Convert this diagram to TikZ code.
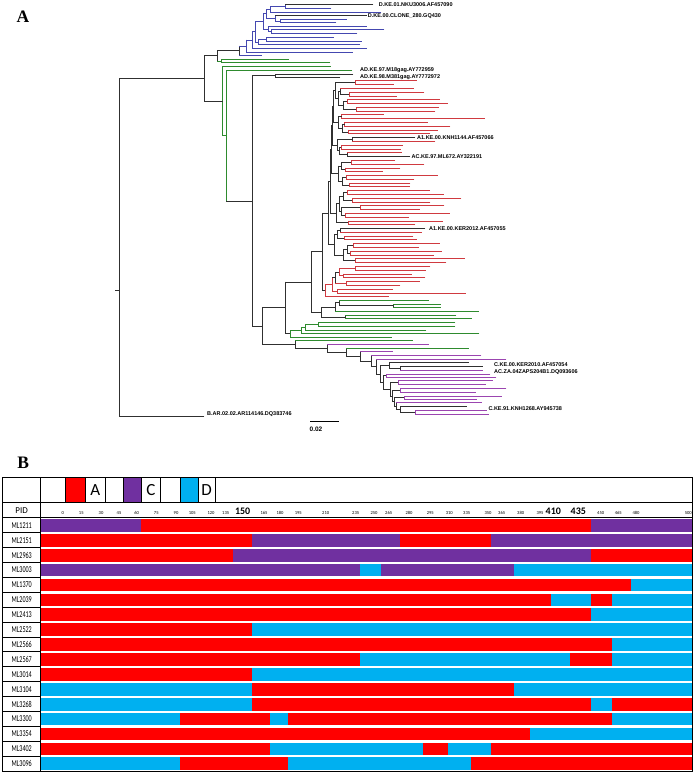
\documentclass[tikz,border=0pt]{standalone}
\usepackage{fontspec}
\usepackage{graphicx}
\setmainfont{Liberation Sans}
\newfontfamily\carl{Carlito}
\newfontfamily\serb{Liberation Serif}
\usetikzlibrary{calc}
\definecolor{trd}{HTML}{D03A40}
\definecolor{tbl}{HTML}{4448B0}
\definecolor{tgr}{HTML}{2E8B2E}
\definecolor{tpu}{HTML}{9B45B0}
\definecolor{tik}{HTML}{303030}
\definecolor{xr}{HTML}{FF0000}
\definecolor{xp}{HTML}{7030A0}
\definecolor{xb}{HTML}{00B0F0}
\tikzset{
  lr/.style={draw=trd,line width=.7pt,line cap=rect},
  lb/.style={draw=tbl,line width=.7pt,line cap=rect},
  lg/.style={draw=tgr,line width=.7pt,line cap=rect},
  lp/.style={draw=tpu,line width=.7pt,line cap=rect},
  lk/.style={draw=tik,line width=.7pt,line cap=rect},
  ib/.style={draw=tik,line width=.7pt,line cap=rect},
  tlab/.style={anchor=west,inner sep=0pt,font=\bfseries\fontsize{5.5}{5.5}\selectfont},
  scl/.style={anchor=base,inner sep=0pt,font=\carl\fontsize{4.6}{4.6}\selectfont},
  sclb/.style={anchor=base,inner sep=0pt,font=\carl\bfseries\fontsize{10}{10}\selectfont},
  rowlbl/.style={inner sep=0pt,font=\carl\fontsize{9}{9}\selectfont},
  tline/.style={black,line width=.8pt},
}
% internal tree node: name, x, child1, style1, child2, style2, vertical style
\newcommand{\tn}[7]{%
  \path let \p1=(#3), \p2=(#5) in node[coordinate] (#1) at (#2pt,{0.5*(\y1+\y2)}) {};
  \draw[#7] let \p1=(#3), \p2=(#5) in (#2pt,\y1) -- (#2pt,\y2);
  \draw[#4] let \p1=(#3) in (#2pt,\y1) -- (\x1,\y1);
  \draw[#6] let \p1=(#5) in (#2pt,\y1) -- (\x1,\y1);
}
\begin{document}
\begin{tikzpicture}[x=1pt,y=-1pt]
\useasboundingbox (0,0) rectangle (696,774);
\fill[white] (0,0) rectangle (696,774);

% ---------------- Panel A : tree ----------------
\node[font=\serb\bfseries\fontsize{17.5}{17.5}\selectfont,inner sep=0pt] (panA) at (23,16.5) {A};

% D cluster leaves
\coordinate (d1) at (373,4.7);
\coordinate (d2) at (331,8.0);
\coordinate (d3) at (381,12.0);
\coordinate (d4) at (366.7,15.7);
\coordinate (d5) at (346.7,19.0);
\coordinate (d6) at (336,22.7);
\coordinate (d7) at (366.7,26.0);
\coordinate (d8) at (384,29.7);
\coordinate (d9) at (357,33.7);
\coordinate (d10) at (333.7,37.3);
\coordinate (d11) at (361.7,41.0);
\coordinate (d12) at (360,44.7);
\coordinate (d13) at (366.7,48.3);
\coordinate (d14) at (352.7,52.0);
\coordinate (d15) at (261.7,55.0);
\tn{da}{285.7}{d1}{lk}{d2}{lb}{lb}
\tn{dc}{270.7}{da}{lb}{d3}{lb}{lb}
\tn{dd}{280.7}{d5}{lb}{d6}{lb}{lb}
\tn{de}{275.3}{d4}{lk}{dd}{lb}{lb}
\tn{df}{266.7}{dc}{lb}{de}{lb}{lb}
\tn{dg}{271.7}{d8}{lb}{d9}{lb}{lb}
\tn{dh}{268}{d7}{lb}{dg}{lb}{lb}
\tn{di}{263.5}{df}{lb}{dh}{lb}{lb}
\tn{dj}{266.7}{d10}{lb}{d11}{lb}{lb}
\tn{dk}{258.3}{dj}{lb}{d12}{lb}{lb}
\tn{dl}{255}{di}{lb}{dk}{lb}{lb}
\tn{dm}{252}{dl}{lb}{d13}{lb}{lb}
\tn{dn}{246.7}{dm}{lb}{d14}{lb}{lb}
\tn{droot}{239.3}{dn}{lb}{d15}{lb}{ib}

% upper green + AD
\coordinate (gt1) at (288.7,59.3);
\coordinate (gt2) at (330,62.7);
\coordinate (gt3) at (330.7,66.0);
\coordinate (gad) at (352,70.7);
\coordinate (ad1) at (353,74.0);
\coordinate (ad2) at (340,77.3);
\tn{gt}{221.7}{gt1}{lg}{gt2}{lg}{lg}
\tn{adn}{275.3}{ad1}{lk}{ad2}{lk}{ib}

% red cluster leaves
\foreach \k/\e in {0/416.7,1/393.3,2/413.3,3/424,4/396.7,5/439.3,6/447.3,7/438.3,8/435,9/383.3,10/484.3,11/427.7,12/450,13/437.3,14/430,15/415,16/435,17/402.7,18/400.7,19/401.7,20/410,21/395,22/424,23/400,24/382.7,25/437.3,26/414,27/410,28/409.3,29/429.3,30/443.3,31/461,32/430,33/444,34/419.3,35/449.3,36/408.3,37/442.7,38/415,39/425,40/421.7,41/413,42/416.7,43/439.3,44/418.3,45/441.7,46/433.3,47/464.3,48/446,49/430,50/425.3,51/411.7,52/425,53/419.3,54/400,55/392.7,56/465.7,57/388.3}
  \coordinate (r\k) at (\e,{80.7+3.789*\k});
\tn{s1}{355}{r0}{lr}{r1}{lr}{lr}
\tn{s2a}{349}{r3}{lr}{r4}{lr}{lr}
\tn{s2b}{340}{r2}{lr}{s2a}{ib}{ib}
\tn{s2c}{347}{r5}{lr}{r6}{lr}{lr}
\tn{s2d}{356}{r7}{lr}{r8}{lr}{lr}
\tn{s2e}{343}{s2c}{ib}{s2d}{ib}{ib}
\tn{s2}{338}{s2b}{ib}{s2e}{ib}{ib}
\tn{s3a}{341.7}{r9}{lr}{r10}{lr}{lr}
\tn{s3b}{344.3}{r11}{lr}{r12}{lr}{lr}
\tn{s3c}{348}{r13}{lr}{r14}{lr}{lr}
\tn{s3d}{342}{s3b}{ib}{s3c}{ib}{ib}
\tn{s3}{338.5}{s3a}{ib}{s3d}{ib}{ib}
\tn{s4a}{352}{r15}{lk}{r16}{lr}{ib}
\tn{s4b}{341}{r17}{lr}{r18}{lr}{lr}
\tn{s4c}{347}{r19}{lr}{r20}{lk}{ib}
\tn{s4d}{339}{s4b}{ib}{s4c}{ib}{ib}
\tn{s4}{337}{s4a}{ib}{s4d}{ib}{ib}
\tn{s5a}{351}{r21}{lr}{r22}{lr}{lr}
\tn{s5b}{345}{r23}{lr}{r24}{lr}{lr}
\tn{s5c}{341}{s5a}{ib}{s5b}{ib}{ib}
\tn{s5d}{346}{r25}{lr}{r26}{lr}{lr}
\tn{s5e}{349}{r27}{lr}{r28}{lr}{lr}
\tn{s5f}{342}{s5d}{ib}{s5e}{ib}{ib}
\tn{s5}{338}{s5c}{ib}{s5f}{ib}{ib}
\tn{s6a}{347}{r29}{lr}{r30}{lr}{lr}
\tn{s6b}{352}{r31}{lr}{r32}{lr}{lr}
\tn{s6c}{343}{s6a}{ib}{s6b}{ib}{ib}
\tn{s6d}{360}{r33}{lr}{r34}{lr}{lr}
\tn{s6e}{345}{r35}{lr}{r36}{lr}{lr}
\tn{s6f}{341}{s6d}{ib}{s6e}{ib}{ib}
\tn{s6g}{339}{s6c}{ib}{s6f}{ib}{ib}
\tn{s6h}{348}{r37}{lr}{r38}{lr}{lr}
\tn{s6}{336}{s6g}{ib}{s6h}{ib}{ib}
\tn{s7a}{340}{r39}{lk}{r40}{lr}{ib}
\tn{s7b}{344}{r41}{lr}{r42}{lr}{lr}
\tn{s7c}{337}{s7a}{ib}{s7b}{ib}{ib}
\tn{s7d}{353}{r43}{lr}{r44}{lr}{lr}
\tn{s7e}{350}{r45}{lr}{r46}{lr}{lr}
\tn{s7f}{347}{s7d}{ib}{s7e}{ib}{ib}
\tn{s7g}{355}{r47}{lr}{r48}{lr}{lr}
\tn{s7h}{343}{s7f}{ib}{s7g}{ib}{ib}
\tn{s7}{334}{s7c}{ib}{s7h}{ib}{ib}
\tn{s8a}{355}{r49}{lr}{r50}{lr}{lr}
\tn{s8b}{343}{r51}{lr}{r52}{lr}{lr}
\tn{s8c}{339}{s8a}{lr}{s8b}{lr}{lr}
\tn{s8d}{346}{r53}{lr}{r54}{lr}{lr}
\tn{s8e}{335}{s8c}{ib}{s8d}{lr}{ib}
\tn{s8f}{337}{r55}{lr}{r56}{lr}{lr}
\tn{s8g}{332}{s8e}{ib}{s8f}{lr}{lr}
\tn{s8}{325}{s8g}{lr}{r57}{lr}{lr}
\tn{b1}{335}{s1}{ib}{s2}{ib}{ib}
\tn{b2}{333}{b1}{ib}{s3}{ib}{ib}
\tn{b3}{332}{b2}{ib}{s4}{ib}{ib}
\tn{b4}{331}{b3}{ib}{s5}{ib}{ib}
\tn{b5}{330}{b4}{ib}{s6}{ib}{ib}
\tn{b6}{328}{b5}{ib}{s7}{ib}{ib}
\tn{rr}{322}{b6}{ib}{s8}{ib}{ib}

% middle green cluster
\coordinate (g1) at (428.3,300.0);
\coordinate (g2) at (440.7,304.0);
\coordinate (g3) at (440.7,307.3);
\coordinate (g4) at (478.3,311.3);
\coordinate (g5) at (456.0,315.0);
\coordinate (g6) at (471.7,318.7);
\coordinate (g7) at (455.0,322.7);
\coordinate (g8) at (455.0,326.0);
\coordinate (g9) at (426.0,330.0);
\coordinate (g10) at (479.0,333.3);
\coordinate (g11) at (391.7,337.0);
\tn{gma}{393.3}{g2}{lg}{g3}{lg}{ib}
\tn{gmb}{339.3}{g1}{lg}{gma}{ib}{ib}
\tn{gmc}{335}{gmb}{ib}{g4}{lg}{ib}
\tn{gme}{345}{g5}{lg}{g6}{lg}{ib}
\tn{gmd}{321.7}{gmc}{ib}{gme}{ib}{ib}
\tn{m1}{311.7}{rr}{ib}{gmd}{ib}{ib}
\tn{gla}{318}{g7}{lg}{g8}{lg}{lg}
\tn{glb}{305}{gla}{lg}{g9}{lg}{lg}
\tn{glc}{301}{glb}{lg}{g10}{lg}{lg}
\tn{gl}{290}{glc}{lg}{g11}{lg}{lg}
\tn{n4}{285}{m1}{ib}{gl}{ib}{ib}

% purple cluster
\coordinate (pg0) at (412.7,340.7);
\coordinate (pp1) at (428.3,344.3);
\coordinate (pg2) at (468.3,348.3);
\coordinate (pp3) at (392.7,351.7);
\coordinate (pp4) at (481,355.3);
\coordinate (pp5) at (506,359.3);
\coordinate (qk1) at (468.3,362.7);
\coordinate (qk2) at (482.7,366.7);
\coordinate (qp3) at (482.7,370.0);
\coordinate (qb1a) at (490,374.0);
\coordinate (qb1b) at (496,377.3);
\coordinate (qc1a) at (492.7,380.7);
\coordinate (qc1b) at (485.3,384.7);
\coordinate (qd1a) at (506,388.7);
\coordinate (qd1b) at (475.7,392.0);
\coordinate (qe1a) at (501.7,396.0);
\coordinate (qe1b) at (476.7,399.3);
\coordinate (qfl) at (481.7,402.7);
\coordinate (qgl) at (466.7,406.7);
\coordinate (qh1) at (486.7,410.0);
\coordinate (qh2) at (488.3,414.0);
\tn{qh}{415}{qh1}{lp}{qh2}{lp}{lp}
\tn{qg}{400}{qgl}{lk}{qh}{ib}{ib}
\tn{qf}{396}{qfl}{lp}{qg}{ib}{ib}
\tn{qe1}{404}{qe1a}{lp}{qe1b}{lp}{lp}
\tn{qe}{394}{qe1}{ib}{qf}{ib}{ib}
\tn{qd1}{400}{qd1a}{lp}{qd1b}{lp}{lp}
\tn{qd}{392}{qd1}{ib}{qe}{ib}{ib}
\tn{qc1}{398}{qc1a}{lp}{qc1b}{lp}{lp}
\tn{qc}{390}{qc1}{ib}{qd}{ib}{ib}
\tn{qb1}{386}{qb1a}{lp}{qb1b}{lp}{lp}
\tn{qb}{383}{qb1}{ib}{qc}{ib}{ib}
\tn{qa2}{400}{qk2}{lk}{qp3}{lp}{ib}
\tn{qa}{389.3}{qk1}{lk}{qa2}{ib}{ib}
\tn{q}{380}{qa}{ib}{qb}{ib}{ib}
\tn{p5}{376}{pp5}{lp}{q}{ib}{ib}
\tn{p4}{371.7}{pp4}{lp}{p5}{ib}{ib}
\tn{p3}{360.7}{pp3}{lp}{p4}{ib}{ib}
\tn{p2}{346.7}{pg2}{lg}{p3}{ib}{ib}
\tn{p1}{327.3}{pp1}{lp}{p2}{ib}{ib}
\tn{p0}{295}{pg0}{lg}{p1}{ib}{ib}
\tn{n3}{262.7}{n4}{ib}{p0}{ib}{ib}
\tn{n2}{252.7}{adn}{ib}{n3}{ib}{ib}
\tn{g1n}{226.7}{gad}{lg}{n2}{ib}{lg}
\tn{g0}{222.7}{gt3}{lg}{g1n}{lg}{lg}
\tn{dpar}{217.3}{droot}{ib}{gt}{lg}{ib}
\tn{an}{204.7}{dpar}{ib}{g0}{ib}{ib}
\coordinate (bleaf) at (204,416.5);
\tn{root}{119.3}{an}{ib}{bleaf}{lk}{ib}
\coordinate (rstub) at (115,290);
\draw[ib] (rstub) -- ++(4.3,0);

% tree labels
\node[tlab] (lab1) at (378.7,4.9) {D.KE.01.NKU3006.AF457090};
\node[tlab] (lab2) at (367.7,16) {D.KE.00.CLONE\_280.GQ430};
\node[tlab] (lab3) at (360,69.7) {AD.KE.97.M18gag.AY772959};
\node[tlab] (lab4) at (360,77.3) {AD.KE.98.M381gag.AY7772972};
\node[tlab] (lab5) at ([xshift=2pt]r15) {A1.KE.00.KNH1144.AF457066};
\node[tlab] (lab6) at ([xshift=1.5pt]r20) {AC.KE.97.ML672.AY322191};
\node[tlab] (lab7) at ([xshift=4pt]r39) {A1.KE.00.KER2012.AF457055};
\node[tlab] (lab8) at (494,364.5) {C.KE.00.KER2010.AF457054};
\node[tlab] (lab9) at (494,372.3) {AC.ZA.04ZAPS204B1.DQ093606};
\node[tlab] (lab10) at (488.3,408.5) {C.KE.91.KNH1268.AY945738};
\node[tlab] (lab11) at (207,414) {B.AR.02.02.AR114146.DQ383746};

% scale bar
\coordinate (sb1) at (310,421.7);
\coordinate (sb2) at (339.3,421.7);
\draw[black,line width=1.3pt] (sb1) -- (sb2);
\node[anchor=west,inner sep=0pt,font=\bfseries\fontsize{6.5}{6.5}\selectfont] (sblab) at (309.5,429.5) {0.02};

% ---------------- Panel B : table ----------------
\node[font=\serb\bfseries\fontsize{17.5}{17.5}\selectfont,inner sep=0pt] (panB) at (23.3,462.8) {B};

% legend fills
\fill[xr] (65.3,477.7) rectangle (85.3,502.7);
\fill[xp] (123.3,477.7) rectangle (141.3,502.7);
\fill[xb] (180,477.7) rectangle (198,502.7);
\node[font=\carl\fontsize{17}{17}\selectfont,inner sep=0pt] (legA) at (95.3,490.5) {A};
\node[font=\carl\fontsize{17}{17}\selectfont,inner sep=0pt] (legC) at (151,490.5) {C};
\node[font=\carl\fontsize{17}{17}\selectfont,inner sep=0pt] (legD) at (206.7,490.5) {D};

% bars
\foreach \r/\a/\b/\c in {
 0/40.7/141.3/xp, 0/141.3/590.7/xr, 0/590.7/692.7/xp,
 1/40.7/252/xr, 1/252/400/xp, 1/400/491/xr, 1/491/692.7/xp,
 2/40.7/233.3/xr, 2/233.3/590.7/xp, 2/590.7/692.7/xr,
 3/40.7/360/xp, 3/360/381/xb, 3/381/513.7/xp, 3/513.7/692.7/xb,
 4/40.7/630.7/xr, 4/630.7/692.7/xb,
 5/40.7/551/xr, 5/551/590.7/xb, 5/590.7/611.7/xr, 5/611.7/692.7/xb,
 6/40.7/590.7/xr, 6/590.7/692.7/xb,
 7/40.7/252/xr, 7/252/692.7/xb,
 8/40.7/611.7/xr, 8/611.7/692.7/xb,
 9/40.7/360/xr, 9/360/570.3/xb, 9/570.3/611.7/xr, 9/611.7/692.7/xb,
 10/40.7/252/xr, 10/252/692.7/xb,
 11/40.7/252/xb, 11/252/513.7/xr, 11/513.7/692.7/xb,
 12/40.7/252/xb, 12/252/590.7/xr, 12/590.7/611.7/xb, 12/611.7/692.7/xr,
 13/40.7/180/xb, 13/180/270/xr, 13/270/288/xb, 13/288/611.7/xr, 13/611.7/692.7/xb,
 14/40.7/530.3/xr, 14/530.3/692.7/xb,
 15/40.7/270/xr, 15/270/423/xb, 15/423/448/xr, 15/448/490.7/xb, 15/490.7/692.7/xr,
 16/40.7/180/xb, 16/180/288/xr, 16/288/470.7/xb, 16/470.7/692.7/xr}
  \fill[\c] (\a,{517.7+14.9*\r+1.3}) rectangle (\b,{517.7+14.9*\r+14});

% table lines
\draw[tline] (2.7,477.7) rectangle (692.7,771);
\draw[tline] (40.7,477.7) -- (40.7,771);
\draw[tline] (2.7,502.7) -- (692.7,502.7);
\draw[tline] (2.7,517.7) -- (692.7,517.7);
\foreach \x in {65.3,85.3,105.3,123.3,141.3,160.7,180,198,215.3}
  \draw[tline] (\x,477.7) -- (\x,502.7);
\foreach \r in {1,...,16}
  \draw[tline] (2.7,{517.7+14.9*\r}) -- (40.7,{517.7+14.9*\r});

% scale row labels
\node[font=\carl\fontsize{9}{9}\selectfont,inner sep=0pt] (pidh) at (21.7,510.5) {PID};
\foreach \x/\t in {62.7/0,81.3/15,101/30,119/45,136.7/60,156.3/75,176/90,192.3/105,211/120,225.7/135,264/165,280/180,298.3/195,325.7/210,355.7/235,374/250,388.7/265,409/280,430.3/295,449.3/310,466.7/335,488/350,501.7/365,520.7/380,540/395,600.7/450,618.3/465,636/480,688.3/500}
  \node[scl] (t\t) at (\x,514.5) {\t};
\foreach \x/\t in {242.7/150,553.3/410,578.3/435}
  \node[sclb] (tb\t) at (\x,514.8) {\t};

% row labels
\foreach \r/\t in {0/ML1211,1/ML2151,2/ML2963,3/ML3003,4/ML1370,5/ML2039,6/ML2413,7/ML2522,8/ML2566,9/ML2567,10/ML3014,11/ML3104,12/ML3268,13/ML3300,14/ML3354,15/ML3402,16/ML3096}
  \node[rowlbl] (pid\r) at (21.7,{517.7+14.9*\r+7.6}) {\scalebox{0.68}[1]{\t}};
\end{tikzpicture}
\end{document}
